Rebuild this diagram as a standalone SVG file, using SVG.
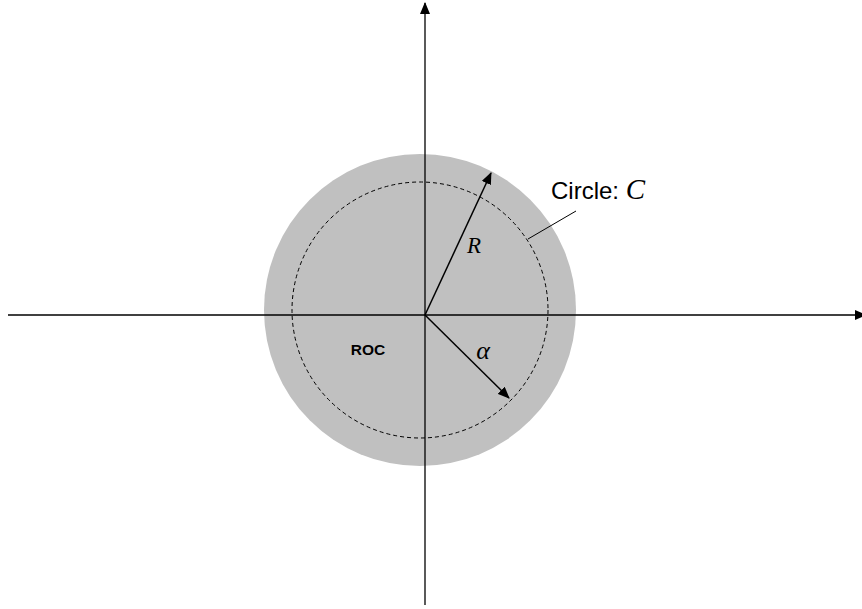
<svg xmlns="http://www.w3.org/2000/svg" width="862" height="609" viewBox="0 0 862 609">
<style>
.ax{stroke:#000;stroke-width:1.3;fill:none}
.arr{stroke:#000;stroke-width:1.5;fill:none}
.sans{font-family:"Liberation Sans",Arial,sans-serif}
.serif{font-family:"Liberation Serif","Times New Roman",serif;font-style:italic}
</style>
<defs>
<marker id="ah" markerWidth="12" markerHeight="10" refX="11" refY="5" orient="auto" markerUnits="userSpaceOnUse">
<path d="M0,0 L12,5 L0,10 Z" fill="#000"/>
</marker>
</defs>
<rect width="862" height="609" fill="#fff"/>
<g id="roc">
<circle cx="420" cy="310" r="156" fill="#c0c0c0"/>
<text class="sans" x="368" y="355" font-size="15.5" font-weight="bold" text-anchor="middle">ROC</text>
</g>
<g id="circleC">
<circle cx="420" cy="310" r="128" fill="none" stroke="#000" stroke-width="1" stroke-dasharray="4,3"/>
<text x="551" y="199"><tspan class="sans" font-size="24">Circle: </tspan><tspan class="serif" font-size="29">C</tspan></text>
</g>
<g id="connectors">
<line class="ax" x1="8" y1="315" x2="866" y2="315" marker-end="url(#ah)"/>
<line class="ax" x1="425" y1="605" x2="425" y2="3" marker-end="url(#ah)"/>
<line class="arr" x1="425" y1="315" x2="491" y2="173" marker-end="url(#ah)"/>
<line class="arr" x1="425" y1="315" x2="509" y2="398" marker-end="url(#ah)"/>
<line stroke="#000" stroke-width="1" x1="528" y1="239" x2="576" y2="211"/>
</g>
<g id="labels">
<text class="serif" x="474" y="253" font-size="23" text-anchor="middle">R</text>
<text class="serif" x="483" y="359" font-size="26" text-anchor="middle">α</text>
</g>
</svg>
